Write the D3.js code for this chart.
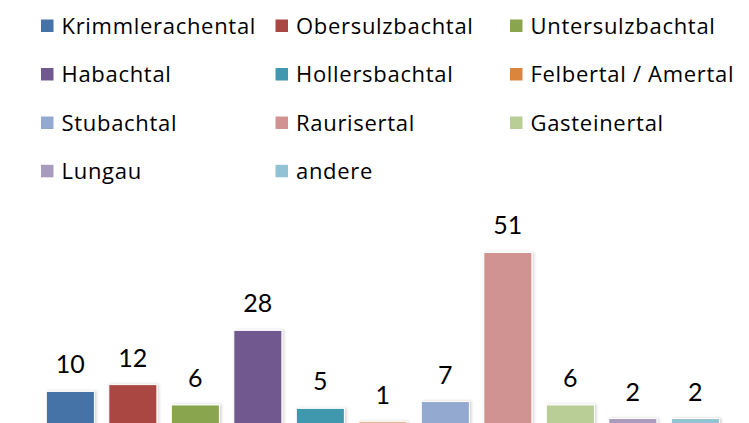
<!DOCTYPE html>
<html>
<head>
<meta charset="utf-8">
<script src="https://cdn.jsdelivr.net/npm/d3@7"></script>
<style>
  body { margin: 0; background: #fff; }
  svg { display: block; font-family: Lato, "Liberation Sans", sans-serif; }
  .legend text { font-family: "Open Sans", Lato, sans-serif; font-size: 22px; letter-spacing: 0.7px; fill: #000; }
  .value { font-size: 25px; fill: #000; }
</style>
</head>
<body>
<svg id="chart" width="749" height="423"></svg>
<script>
// Täler und Anzahl
const categories = ['Krimmlerachental', 'Obersulzbachtal', 'Untersulzbachtal', 'Habachtal',
  'Hollersbachtal', 'Felbertal / Amertal', 'Stubachtal', 'Raurisertal', 'Gasteinertal',
  'Lungau', 'andere'];
const values = [10, 12, 6, 28, 5, 1, 7, 51, 6, 2, 2];
const colors = ['#4572A7', '#AA4643', '#89A54E', '#71588F', '#4198AF', '#DB843D',
  '#93A9CF', '#D19392', '#B9CD96', '#A99BBD', '#92C3D5'];

const data = categories.map((c, i) => ({ name: c, value: values[i], color: colors[i] }));

const svg = d3.select('#chart');

// ombre légère des barres
const defs = svg.append('defs');
const shadow = defs.append('filter')
    .attr('id', 'shadow')
    .attr('x', '-20%').attr('y', '-20%')
    .attr('width', '140%').attr('height', '140%');
shadow.append('feDropShadow')
    .attr('dx', 1.5).attr('dy', 0)
    .attr('stdDeviation', 1.5)
    .attr('flood-color', '#000')
    .attr('flood-opacity', 0.18);

// LEGENDE
const legend = svg.append('g').attr('class', 'legend');
const colX = [41, 275.5, 510];
const rowY = [19.5, 68, 116.5, 164.8];

const items = legend.selectAll('g')
    .data(data)
    .enter()
    .append('g')
    .attr('transform', (d, i) => `translate(${colX[i % 3]}, ${rowY[Math.floor(i / 3)]})`);

items.append('rect')
    .attr('width', 12.5)
    .attr('height', 12.5)
    .attr('fill', d => d.color);

items.append('text')
    .attr('x', 20.5)
    .attr('y', 6.5)
    .attr('dy', '0.35em')
    .text(d => d.name);

// BARRES
const x = d3.scaleBand()
    .domain(categories)
    .range([39.1, 726.6])
    .paddingInner(0.231)
    .paddingOuter(0.1155);

const baseline = 425.3;
const y = d3.scaleLinear()
    .domain([0, 60])
    .range([baseline, baseline - 60 * 3.39]);

const bars = svg.append('g');

bars.selectAll('rect')
    .data(data)
    .enter()
    .append('rect')
    .attr('x', d => x(d.name))
    .attr('y', d => y(d.value))
    .attr('width', x.bandwidth())
    .attr('height', d => baseline - y(d.value) + 10)
    .attr('fill', d => d.color)
    .attr('stroke', '#fff')
    .attr('stroke-width', 1)
    .attr('filter', 'url(#shadow)');

bars.selectAll('text')
    .data(data)
    .enter()
    .append('text')
    .attr('class', 'value')
    .attr('x', d => x(d.name) + x.bandwidth() / 2)
    .attr('y', d => y(d.value) - 18)
    .attr('text-anchor', 'middle')
    .text(d => d.value);
</script>
</body>
</html>
